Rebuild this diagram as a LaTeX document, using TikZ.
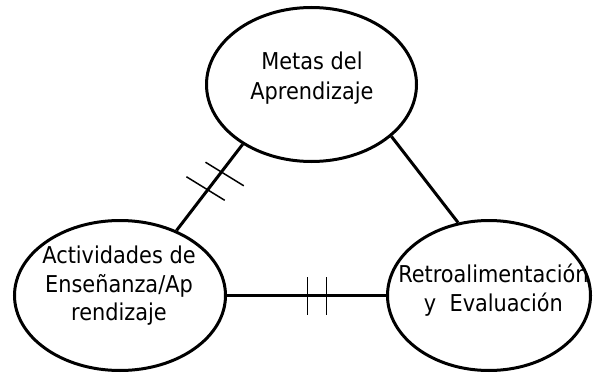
\documentclass[tikz,border=0pt]{standalone}
\usepackage{fontspec}
\setmainfont{DejaVu Sans Condensed}
\usetikzlibrary{decorations.markings,shapes.geometric}
\begin{document}
\begin{tikzpicture}[x=1pt,y=1pt,
  bubble/.style={draw=black,line width=3pt,ellipse,inner sep=0pt},
  lbl/.style={anchor=base,inner sep=0pt,font=\fontsize{23.2}{28.5}\selectfont},
  conn/.style={draw=black,line width=3pt},
  tickmark/.style={draw=black,line width=1.5pt},
]
\useasboundingbox (0,0) rectangle (594,373);
\node[bubble,minimum width=210pt,minimum height=154pt] (top) at (311.5,288.5) {};
\node[bubble,minimum width=211pt,minimum height=150pt] (left) at (120,77.5) {};
\node[bubble,minimum width=203pt,minimum height=150pt] (right) at (489,77.5) {};

\node[lbl] (t1) at (312,303) {Metas del};
\node[lbl] (t2) at (312,274) {Aprendizaje};
\node[lbl] (l1) at (119,110) {Actividades de};
\node[lbl] (l2) at (119,81) {Enseñanza/Ap};
\node[lbl] (l3) at (119,53) {rendizaje};
\node[lbl] (r1) at (493.5,91) {Retroalimentación};
\node[lbl] (r2) at (493.5,62) {y\ \ Evaluación};

\draw[conn,postaction={decorate,decoration={markings,
   mark=at position 0.321 with {\draw[tickmark] (275.9:18.7) -- (95.9:26.3);},
   mark=at position 0.528 with {\draw[tickmark] (275.9:25) -- (95.9:20);}}}]
  (top.221) -- (left.49.5);
\draw[conn] (top.327) -- (right.113.8);
\draw[conn,postaction={decorate,decoration={markings,
   mark=at position 0.506 with {\draw[tickmark] (0,-19) -- (0,19);},
   mark=at position 0.625 with {\draw[tickmark] (0,-19) -- (0,19);}}}]
  (left.east) -- (right.west);
\end{tikzpicture}
\end{document}
